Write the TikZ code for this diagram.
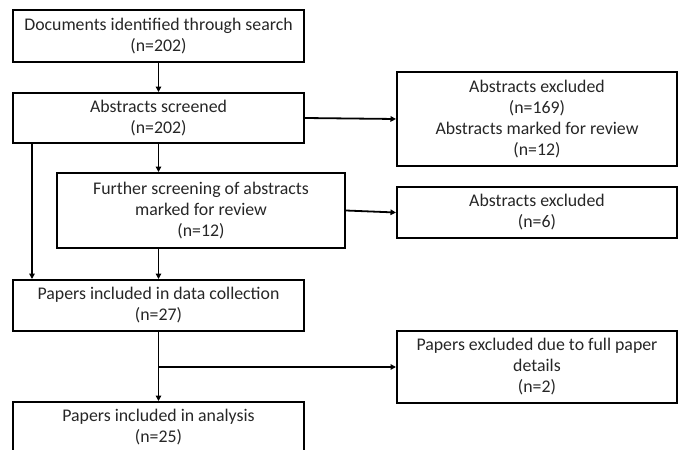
\documentclass[tikz,border=0pt]{standalone}
\usepackage{fontspec}
\setmainfont{Carlito}
\usetikzlibrary{calc,arrows.meta}

\begin{document}
\begin{tikzpicture}[x=1pt,y=-1pt,
		box/.style={draw,line width=2pt,align=center,inner sep=0pt,
			font=\fontsize{17.8}{21}\selectfont,text=black!85},
		arr/.style={line width=1.8pt,-{Triangle[length=5.5pt,width=5.5pt]}},
		ln/.style={line width=1.8pt}]
		\useasboundingbox (0,0) rectangle (678,450);
		\clip (0,0) rectangle (678,450);
		
		\node[box,minimum width=291pt,minimum height=52pt] (docs) at (158.5,36) {Documents identified through search\\(n=202)};
		\node[box,minimum width=291pt,minimum height=50pt] (scr) at (158.5,118) {Abstracts screened\\(n=202)};
		\node[box,minimum width=288pt,minimum height=75pt] (fur) at (201,210.5) {Further screening of abstracts\\marked for review\\(n=12)};
		\node[box,minimum width=291pt,minimum height=51pt] (coll) at (158.5,305.5) {Papers included in data collection\\(n=27)};
		\node[box,minimum width=291pt,minimum height=51pt] (ana) at (158.5,427.5) {Papers included in analysis\\(n=25)};
		
		\node[box,minimum width=280pt,minimum height=94pt] (exa) at (537,119) {Abstracts excluded\\(n=169)\\Abstracts marked for review\\(n=12)};
		\node[box,minimum width=280pt,minimum height=51pt] (exb) at (537,212.5) {Abstracts excluded\\(n=6)};
		\node[box,minimum width=280pt,minimum height=72pt] (exp) at (537,367) {Papers excluded due to full paper\\details\\(n=2)};
		
		\draw[arr] (docs) -- (scr);
		\draw[arr] (scr.east) -- (exa.west);
		\draw[arr] (scr.south) -- (scr.south |- fur.north);
		\draw[arr] ([xshift=20pt]scr.south west) -- ([xshift=20pt]coll.north west);
		\draw[arr] (fur.east) -- (exb.west);
		\draw[arr] (coll.north |- fur.south) -- (coll.north);
		\draw[arr] (coll) -- (ana);
		
		\coordinate (br) at (coll.south |- exp.west);
		\draw[arr] (br) -- (exp.west);
\end{tikzpicture}
\end{document}
